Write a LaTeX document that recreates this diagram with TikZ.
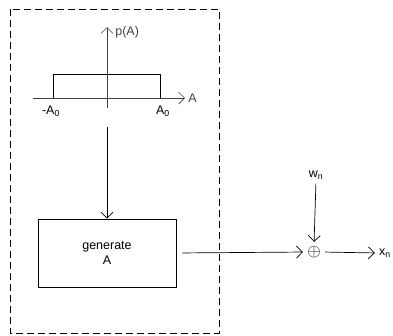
\documentclass[tikz,border=0pt]{standalone}
\usepackage{fontspec}
\setmainfont{Liberation Sans}
\usepackage{tikz}
\usetikzlibrary{arrows.meta,positioning}

\begin{document}
\begin{tikzpicture}[x=1pt,y=-1pt,font=\fontsize{12.5}{15}\selectfont,
    >={Straight Barb[length=6pt,width=12pt]}, line width=0.7pt,
    lbl/.style={inner sep=1pt}]
  \useasboundingbox (0,0) rectangle (393,335);
  % dashed frame round the generator
  \draw[dash pattern=on 7pt off 4pt] (10,9) rectangle (219,333);
  % axes of the density p(A)
  \coordinate (xl) at (33,98);
  \coordinate (xr) at (185,98);
  \coordinate (yb) at (107,108);
  \coordinate (yt) at (107,27);
  \draw[->, black!75] (xl) -- (xr) node[right=2pt, lbl] {A};
  \draw[->, black!75] (yb) -- (yt) node[right=7pt, lbl, yshift=-5pt] {p(A)};
  % uniform density between -A0 and A0
  \draw (53,98) -- (53,74) -- (160,74) -- (160,98);
  \node[lbl] (negA) at (51,111) {-A\textsubscript{0}};
  \node[lbl] (posA) at (163,111) {A\textsubscript{0}};
  % generator, adder and output
  \coordinate (den) at (107,127);
  \node[draw, minimum width=138pt, minimum height=68pt, align=center] (gen) at (107,253) {generate\\A};
  \node[inner sep=1pt, font=\fontsize{18}{18}\selectfont] (sum) at (314,252) {$\oplus$};
  \node[lbl] (wn) at (316,175) {w\textsubscript{n}};
  \node[lbl] (xn) at (385,253) {x\textsubscript{n}};
  \draw[->] (den) -- (gen.north);
  \draw[->, shorten <=6pt, shorten >=3pt] (gen.east) -- (sum.west);
  \draw[->, shorten <=3pt, shorten >=3pt] (wn.south) -- (sum.north);
  \draw[->, shorten <=3pt, shorten >=3pt] (sum.east) -- (xn.west);
\end{tikzpicture}
\end{document}
